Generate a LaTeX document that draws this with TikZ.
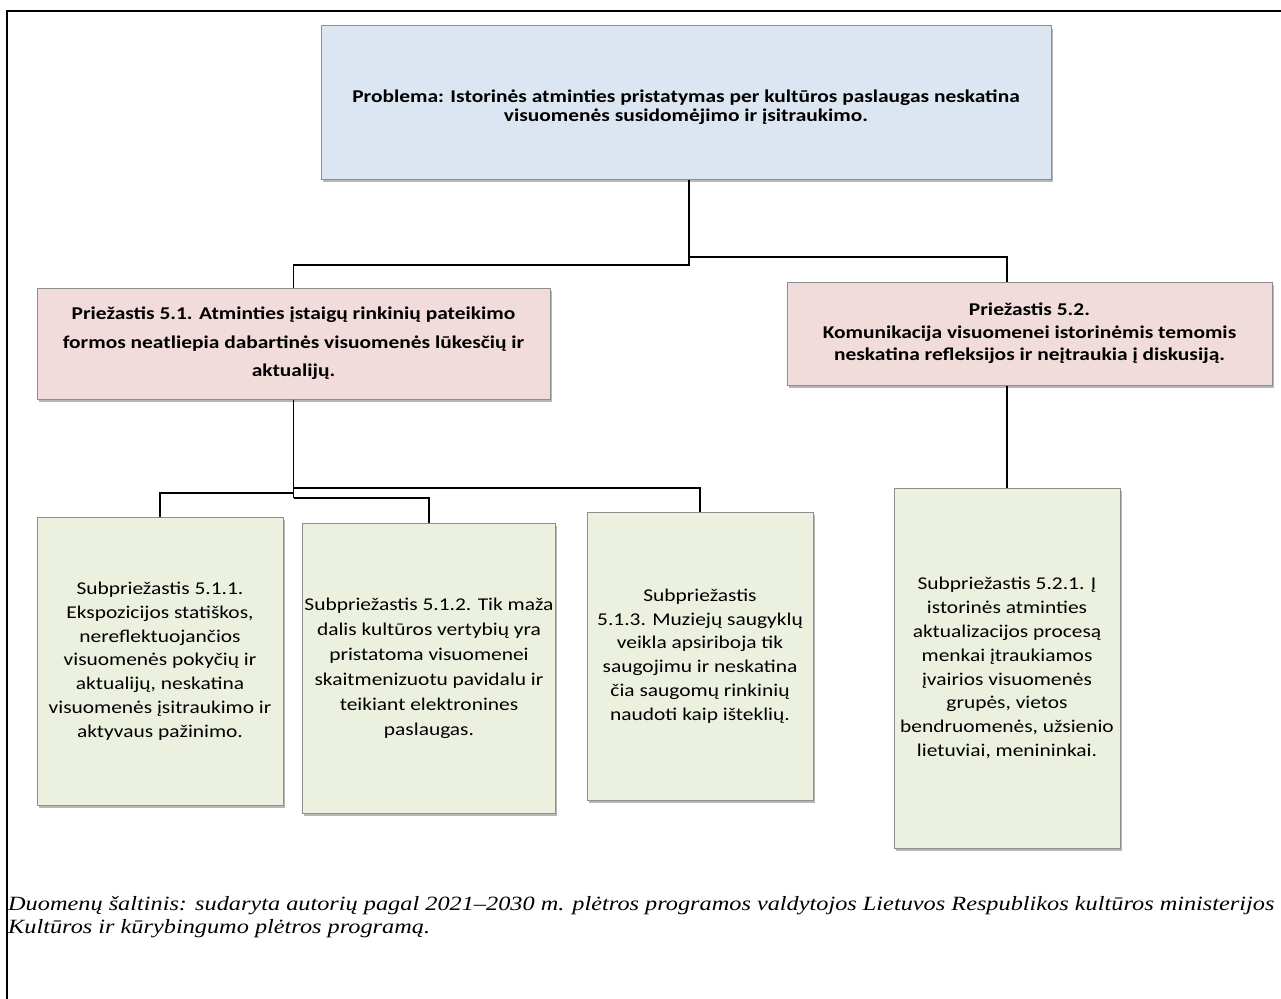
\documentclass[tikz,border=0pt]{standalone}
\usepackage{fontspec}
\setmainfont{Carlito}[FakeStretch=1.19]
\newfontfamily\capfont{Liberation Serif}[FakeStretch=1.2]
\usetikzlibrary{shadows}
\definecolor{blueF}{HTML}{DCE6F2}
\definecolor{pinkF}{HTML}{F2DCDB}
\definecolor{greenF}{HTML}{EBF1DE}
\definecolor{boxD}{HTML}{8E8E8E}
\begin{document}
\begin{tikzpicture}[x=1pt,y=-1pt,
  box/.style={draw=boxD, line width=1pt, align=center, inner sep=2pt,
    drop shadow={shadow xshift=1.5pt, shadow yshift=-3pt, opacity=0.4, fill=black!70}},
  probbox/.style={box, fill=blueF, font=\fontsize{18}{19.5}\selectfont\bfseries},
  causebox/.style={box, fill=pinkF, font=\fontsize{18}{28.5}\selectfont\bfseries},
  cause2box/.style={box, fill=pinkF, font=\fontsize{18}{22.5}\selectfont\bfseries},
  subbox/.style={box, fill=greenF, font=\fontsize{18}{23.8}\selectfont},
  link/.style={line width=1.6pt, draw=black},
  frame/.style={line width=2.2pt, draw=black}
]
\useasboundingbox (0,0) rectangle (1281,998);
\draw[frame] (7,1000) -- (7,11) -- (1283,11);

\node[probbox, minimum width=730pt, minimum height=153pt] (top) at (686,102.5)
  {\rule{0pt}{22pt}Problema: Istorinės atminties pristatymas per kultūros paslaugas neskatina\\
   visuomenės susidomėjimo ir įsitraukimo.};

\node[causebox, minimum width=513pt, minimum height=111pt] (p51) at (293.5,343.5)
  {Priežastis 5.1. Atminties įstaigų rinkinių pateikimo\\
   formos neatliepia dabartinės visuomenės lūkesčių ir\\ aktualijų.};

\node[cause2box, minimum width=485pt, minimum height=103pt] (p52) at (1029.5,333.5)
  {Priežastis 5.2.\\ Komunikacija visuomenei istorinėmis temomis\\
   neskatina refleksijos ir neįtraukia į diskusiją.};

\node[subbox, minimum width=246pt, minimum height=288pt] (s511) at (160,661)
  {Subpriežastis 5.1.1.\\ Ekspozicijos statiškos,\\ nereflektuojančios\\
   visuomenės pokyčių ir\\ aktualijų, neskatina\\ visuomenės įsitraukimo ir\\
   aktyvaus pažinimo.};

\node[subbox, minimum width=252pt, minimum height=290pt,
  font=\fontsize{18}{25}\selectfont] (s512) at (429,668)
  {Subpriežastis 5.1.2. Tik maža\\ dalis kultūros vertybių yra\\
   pristatoma visuomenei\\ skaitmenizuotu pavidalu ir\\ teikiant elektronines\\ paslaugas.};

\node[subbox, minimum width=226pt, minimum height=288pt] (s513) at (700,656)
  {Subpriežastis\\ 5.1.3. Muziejų saugyklų\\ veikla apsiriboja tik\\
   saugojimu ir neskatina\\ čia saugomų rinkinių\\ naudoti kaip išteklių.};

\node[subbox, minimum width=226pt, minimum height=360pt] (s521) at (1007,668)
  {Subpriežastis 5.2.1. Į\\ istorinės atminties\\ aktualizacijos procesą\\
   menkai įtraukiamos\\ įvairios visuomenės\\ grupės, vietos\\
   bendruomenės, užsienio\\ lietuviai, menininkai.};

% connectors
\coordinate (jr) at (689,257);
\coordinate (jl) at (689,265);
\draw[link] ([xshift=3pt]top.south) -- (jl) -| (p51.north);
\draw[link] (jr) -| ([xshift=-22.5pt]p52.north);
\draw[link] ([xshift=-22.5pt]p52.south) -- (s521.north);

\coordinate (ja) at (293.5,488);
\coordinate (jb) at (293.5,493);
\coordinate (jc) at (293.5,498);
\draw[link] (p51.south) -- (jc);
\draw[link] (ja) -| (s513.north);
\draw[link] (jb) -| (s511.north);
\draw[link] (jc) -| (s512.north);

\node[anchor=north west, inner sep=0pt, align=left,
  font=\capfont\itshape\fontsize{20.25}{23}\selectfont] (cap) at (8,896)
  {Duomenų šaltinis: sudaryta autorių pagal 2021–2030 m. plėtros programos valdytojos Lietuvos Respublikos kultūros ministerijos\\
   Kultūros ir kūrybingumo plėtros programą.};
\end{tikzpicture}
\end{document}
